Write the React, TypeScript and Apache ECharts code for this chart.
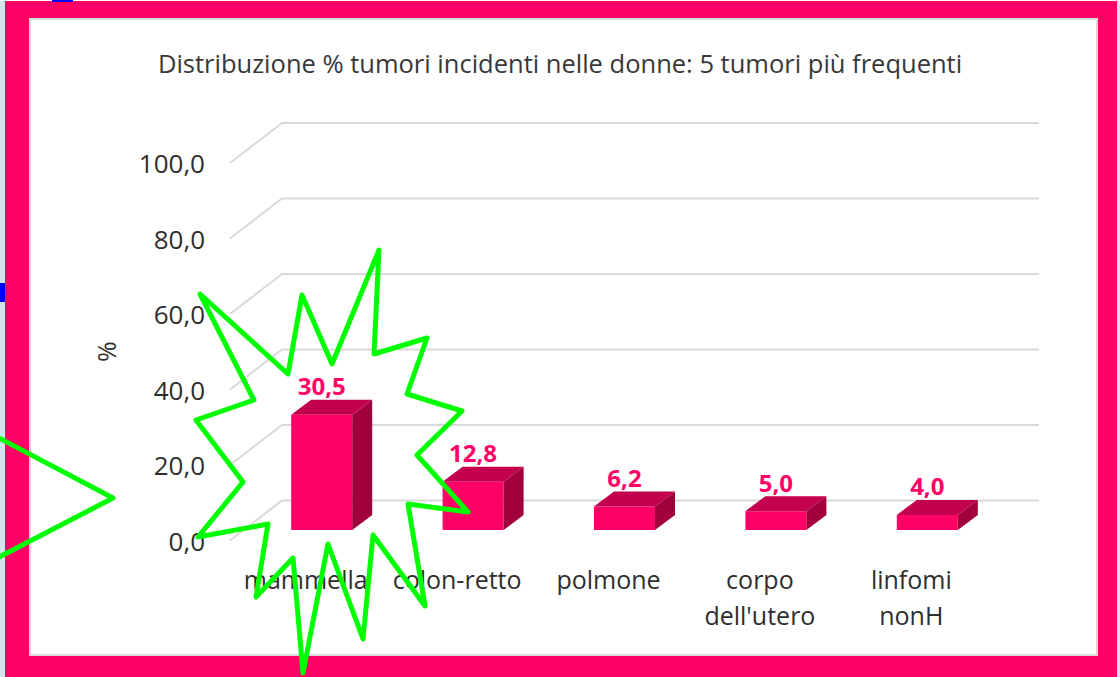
import React, { useEffect, useRef } from "react";
import * as echarts from "echarts";

const categories = ["mammella", "colon-retto", "polmone", "corpo\ndell'utero", "linfomi\nnonH"];
const values = [30.5, 12.8, 6.2, 5.0, 4.0];
const yTicks = [0, 20, 40, 60, 80, 100];
const titleText = "Distribuzione % tumori incidenti nelle donne: 5 tumori più frequenti";

// annotation overlay (green starburst drawn on top of the slide)
const starPoints: number[][] = [
  [200, 294], [288, 374], [302, 295], [332, 364], [379, 250], [374, 354],
  [427, 338], [407, 394], [462, 411], [417, 455], [468, 512], [408, 504],
  [425, 606], [373, 535], [363, 639], [328, 544], [303, 673], [293, 558],
  [256, 597], [268, 524], [198, 537], [243, 482], [196, 420], [254, 400],
];
const wedgePoints: number[][] = [[-20, 428], [113, 498], [-20, 567]];

const FONT = "'Open Sans', 'Noto Sans', sans-serif";
const TEXT = "#2e2e2e";
const fmt = (v: number) => v.toFixed(1).replace(".", ",");

export default function App() {
  const ref = useRef<HTMLDivElement>(null);
  useEffect(() => {
    if (!ref.current) return;
    const chart = echarts.init(ref.current, null, { renderer: "svg" });
    const depthX = 52, depthY = -40;
    const barDX = 20, barDY = -15, barW = 61;
    chart.setOption({
      animation: false,
      backgroundColor: "#d3e5ea",
      title: {
        text: titleText,
        left: "center",
        top: 45,
        textStyle: { fontFamily: FONT, fontSize: 25.5, fontWeight: "normal", color: "#383838" },
      },
      graphic: [
        { type: "rect", z: -10, shape: { x: 0, y: 0, width: 1120, height: 1 }, style: { fill: "#ffffff" } },
        { type: "rect", z: -9, shape: { x: 5, y: 1, width: 1112, height: 676 }, style: { fill: "#ff0066" } },
        { type: "rect", z: -8, shape: { x: 30, y: 19, width: 1067, height: 636 }, style: { fill: "#ffffff", stroke: "#d9d9d9", lineWidth: 2 } },
        { type: "rect", z: -8, shape: { x: 52, y: 0, width: 21, height: 2 }, style: { fill: "#0000ff" } },
        { type: "rect", z: -8, shape: { x: 0, y: 283, width: 5, height: 19 }, style: { fill: "#0000ff" } },
        {
          type: "polygon", z: 100, shape: { points: starPoints },
          style: { fill: "none", stroke: "#00ff00", lineWidth: 5, lineJoin: "round" },
        },
        {
          type: "polyline", z: 100, shape: { points: wedgePoints },
          style: { fill: "none", stroke: "#00ff00", lineWidth: 5, lineJoin: "round" },
        },
      ],
      grid: [
        { left: 230, top: 163, width: 757, height: 377.5 },
        { left: 246, top: 152.5, width: 757, height: 377.5 },
      ],
      xAxis: [
        {
          gridIndex: 0, type: "category", data: categories,
          axisLine: { show: false }, axisTick: { show: false },
          axisLabel: { interval: 0, margin: 20, fontFamily: FONT, fontSize: 25, lineHeight: 36, color: TEXT },
        },
        { gridIndex: 1, type: "category", data: categories, show: false },
      ],
      yAxis: [
        {
          gridIndex: 0, type: "value", min: 0, max: 100, interval: 20,
          axisLine: { show: false }, axisTick: { show: false }, splitLine: { show: false },
          axisLabel: { margin: 25, fontFamily: FONT, fontSize: 26, color: TEXT, formatter: (v: number) => fmt(v) },
          name: "%", nameLocation: "middle", nameGap: 112, nameRotate: 90,
          nameTextStyle: { fontFamily: FONT, fontSize: 25, color: TEXT },
        },
        { gridIndex: 1, type: "value", min: 0, max: 100, interval: 20, show: false },
      ],
      series: [
        {
          type: "custom", xAxisIndex: 0, yAxisIndex: 0, z: 1, silent: true,
          data: yTicks.map((v) => [0, v]),
          renderItem: (params: any, api: any) => {
            const y = api.coord([0, api.value(1)])[1];
            const cs = params.coordSys;
            const x0 = cs.x;
            return {
              type: "polyline",
              shape: { points: [[x0, y], [x0 + depthX, y + depthY], [x0 + depthX + cs.width, y + depthY]] },
              style: { stroke: "#d9d9d9", lineWidth: 2, fill: "none" },
            };
          },
        },
        {
          type: "custom", xAxisIndex: 1, yAxisIndex: 1, z: 5,
          data: values.map((v, i) => [i, v]),
          renderItem: (params: any, api: any) => {
            const idx = api.value(0);
            const v = api.value(1);
            const top = api.coord([idx, v]);
            const base = api.coord([idx, 0]);
            const x0 = top[0] - barW / 2, x1 = top[0] + barW / 2;
            const t = top[1], b = base[1];
            return {
              type: "group",
              children: [
                { type: "rect", shape: { x: x0, y: t, width: barW, height: b - t }, style: { fill: "#ff0066" } },
                {
                  type: "polygon",
                  shape: { points: [[x0, t], [x1, t], [x1 + barDX, t + barDY], [x0 + barDX, t + barDY]] },
                  style: { fill: "#c2004d" },
                },
                {
                  type: "polygon",
                  shape: { points: [[x1, t], [x1 + barDX, t + barDY], [x1 + barDX, b + barDY], [x1, b]] },
                  style: { fill: "#a1003d" },
                },
                {
                  type: "text",
                  style: {
                    text: fmt(v), x: top[0], y: t - 29, align: "center", verticalAlign: "middle",
                    font: `bold 24px ${FONT}`, fill: "#ff0066",
                  },
                },
              ],
            };
          },
        },
      ],
    });
    return () => chart.dispose();
  }, []);
  return <div ref={ref} style={{ position: "fixed", left: 0, top: 0, width: 1120, height: 677 }} />;
}
